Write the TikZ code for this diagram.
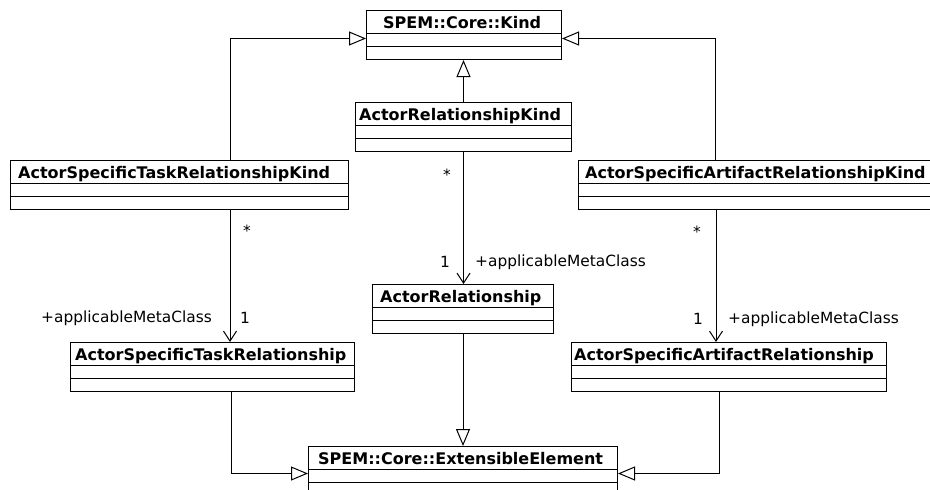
\documentclass[tikz,border=0pt]{standalone}
\usepackage{fontspec}
\setmainfont{DejaVu Sans}
\usetikzlibrary{arrows.meta}
\tikzset{
  clsbox/.style={draw=black, line width=1pt, rectangle, inner sep=0pt, fill=white},
  clstitle/.style={inner sep=0pt, font=\fontsize{16}{18}\selectfont\bfseries},
  lbl/.style={inner sep=0pt, font=\fontsize{15.4}{18}\selectfont},
  gen/.style={line width=1pt, -{Triangle[open, length=17pt, width=14pt, line width=1pt]}},
  assoc/.style={line width=1pt, -{Straight Barb[length=10pt, width=13pt, line width=1pt]}},
}
\newcommand{\umlcls}[7]{%
  \node[clsbox, anchor=north west, minimum width={(#4-#2)*1pt}, minimum height={(#5-#3)*1pt}] (#1) at (#2,#3) {};
  \draw[line width=1pt] (#2,{#3+23.5}) -- (#4,{#3+23.5});
  \draw[line width=1pt] (#2,{#3+36}) -- (#4,{#3+36});
  \node[clstitle, anchor=base west] (#1-t) at ({#2+#7},{#3+18}) {#6};
}
\begin{document}
\begin{tikzpicture}[x=1pt,y=-1pt]
\useasboundingbox (0,0) rectangle (930,490);
\fill[white] (0,0) rectangle (930,490);
\clip (0,0) rectangle (930,490);

\umlcls{kind}{366}{10}{561}{59}{SPEM::Core::Kind}{17}
\umlcls{ark}{355}{102}{571}{151}{ActorRelationshipKind}{4}
\umlcls{astrk}{10}{160}{348}{209}{ActorSpecificTaskRelationshipKind}{8}
\umlcls{asark}{578}{160}{945}{209}{ActorSpecificArtifactRelationshipKind}{7}
\umlcls{ar}{372}{284}{553}{333}{ActorRelationship}{8}
\umlcls{astr}{70}{342}{354}{391}{ActorSpecificTaskRelationship}{5}
\umlcls{asar}{571}{342}{886}{391}{ActorSpecificArtifactRelationship}{3}
\umlcls{ee}{308}{446}{617}{500}{SPEM::Core::ExtensibleElement}{10}

% generalizations to Kind
\draw[gen] ([xshift=220pt]astrk.north west) |- ([yshift=-3.5pt]kind.west);
\draw[gen] (ark.north) -- (ark.north |- kind.south);
\draw[gen] ([xshift=137pt]asark.north west) |- ([yshift=-3.5pt]kind.east);

% associations
\draw[assoc] (ark.south) -- (ark.south |- ar.north);
\node[lbl] (m1a) at (447,175) {*};
\node[lbl] (m1b) at (445,262) {1};
\node[lbl, anchor=west] (r1) at (475,262) {+applicableMetaClass};

\draw[assoc] ([xshift=220pt]astrk.south west) -- ([xshift=160pt]astr.north west);
\node[lbl] (m2a) at (247,231) {*};
\node[lbl] (m2b) at (245,318) {1};
\node[lbl, anchor=east] (r2) at (212,318) {+applicableMetaClass};

\draw[assoc] ([xshift=138pt]asark.south west) -- ([xshift=145pt]asar.north west);
\node[lbl] (m3a) at (697,232) {*};
\node[lbl] (m3b) at (698,319) {1};
\node[lbl, anchor=west] (r3) at (728,319) {+applicableMetaClass};

% generalizations to ExtensibleElement
\draw[gen] ([xshift=161pt]astr.south west) |- (ee.west);
\draw[gen] (ar.south) -- (ar.south |- ee.north);
\draw[gen] ([xshift=148pt]asar.south west) |- (ee.east);
\end{tikzpicture}
\end{document}
